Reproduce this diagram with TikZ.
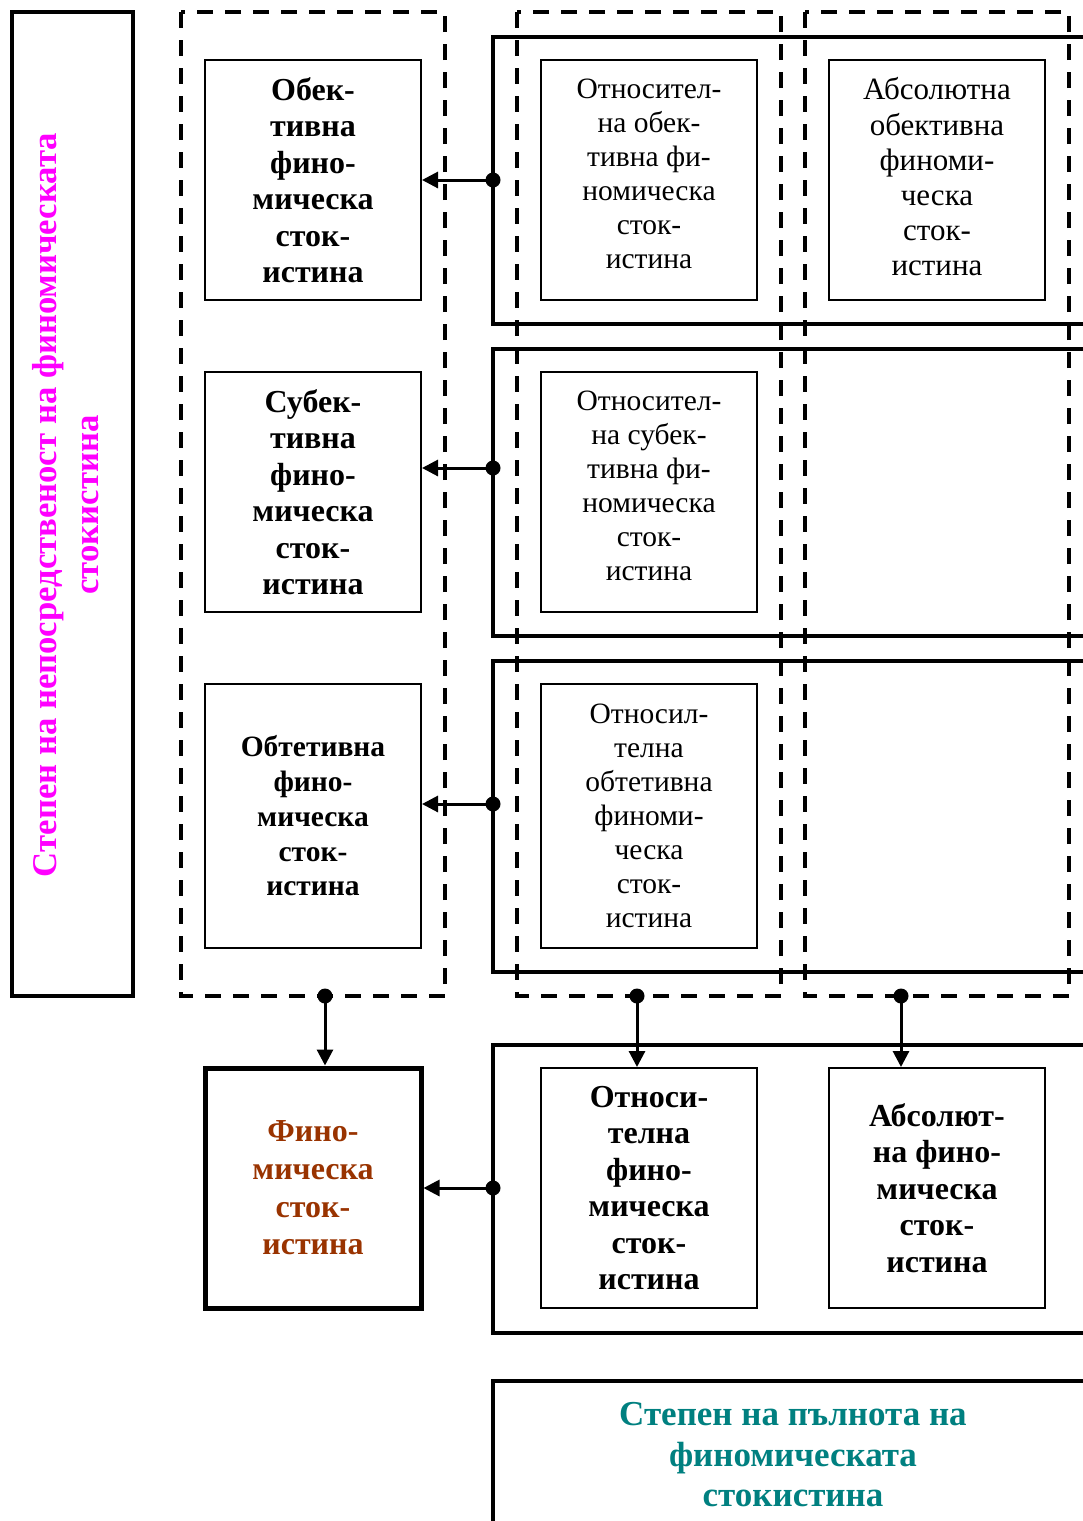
\documentclass[tikz,border=0pt]{standalone}
\usepackage{fontspec}
\setmainfont{Liberation Serif}
\usetikzlibrary{arrows.meta}
\definecolor{mag}{HTML}{FF00FF}
\definecolor{brn}{HTML}{993300}
\definecolor{tl}{HTML}{008080}
\begin{document}
\begin{tikzpicture}[x=1pt,y=-1pt,
 inbox/.style={draw, line width=2pt, minimum width=216pt, minimum height=240pt, inner sep=0pt, align=center},
 plain/.style={inner sep=0pt, align=center},
 bftext/.style={font=\fontsize{32}{36.5}\selectfont\bfseries},
 rmtext/.style={font=\fontsize{29.5}{34}\selectfont},
 dbox/.style={draw, line width=3.5pt, dash pattern=on 16pt off 12pt},
 rowbox/.style={draw, line width=3.5pt},
 conn/.style={line width=3pt, -{Triangle[length=16pt,width=16pt]}},
 dotnode/.style={circle, fill, inner sep=0pt, minimum size=15pt}]
\useasboundingbox (0,0) rectangle (1083,1521);
\clip (0,0) rectangle (1083,1521);
\fill[white] (0,0) rectangle (1083,1521);

% side box with vertical text
\node[draw, line width=4pt, minimum width=121pt, minimum height=984pt, inner sep=0pt] (side) at (72.5,504) {};
\node[rotate=90, text=mag, align=center, font=\fontsize{34.7}{42}\selectfont\bfseries] (vt) at (66,505) {Степен на непосредственост на финомическата\\стокистина};

% row containers
\draw[rowbox] (493,37) rectangle (1110,324);
\draw[rowbox] (493,349) rectangle (1110,636);
\draw[rowbox] (493,661) rectangle (1110,972);
\draw[rowbox] (493,1045) rectangle (1110,1333);
\draw[rowbox] (493,1381) rectangle (1110,1560);

% dashed columns
\draw[dbox] (181,12) rectangle (445,996);
\draw[dbox] (517,12) rectangle (781,996);
\draw[dbox] (805,12) rectangle (1069,996);

% inner boxes
\node[inbox, bftext] (L1) at (313,180) {Обек-\\тивна\\фино-\\мическа\\сток-\\истина};
\node[inbox, bftext] (L2) at (313,492) {Субек-\\тивна\\фино-\\мическа\\сток-\\истина};
\node[inbox, font=\fontsize{29.5}{34.75}\selectfont\bfseries, minimum height=264pt] (L3) at (313,816) {Обтетивна\\фино-\\мическа\\сток-\\истина};
\node[inbox] (M1) at (649,180) {};
\node[plain, rmtext] (M1t) at (649,174) {Относител-\\на обек-\\тивна фи-\\номическа\\сток-\\истина};
\node[inbox] (A1) at (937,180) {};
\node[plain, font=\fontsize{31}{35.2}\selectfont] (A1t) at (937,177) {Абсолютна\\обективна\\финоми-\\ческа\\сток-\\истина};
\node[inbox] (M2) at (649,492) {};
\node[plain, rmtext] (M2t) at (649,486) {Относител-\\на субек-\\тивна фи-\\номическа\\сток-\\истина};
\node[inbox, rmtext, minimum height=264pt] (M3) at (649,816) {Относил-\\телна\\обтетивна\\финоми-\\ческа\\сток-\\истина};
\node[inbox, font=\fontsize{32}{37.6}\selectfont\bfseries, line width=5pt, text=brn] (F) at (313,1188) {Фино-\\мическа\\сток-\\истина};
\node[inbox, bftext] (B1) at (649,1188) {Относи-\\телна\\фино-\\мическа\\сток-\\истина};
\node[inbox, bftext] (B2) at (937,1188) {Абсолют-\\на фино-\\мическа\\сток-\\истина};

% bottom label
\node[text=tl, align=center, font=\fontsize{35}{40.5}\selectfont\bfseries] (lab) at (793,1455) {Степен на пълнота на\\финомическата\\стокистина};

% connectors
\coordinate (d1) at (493,180);
\coordinate (d2) at (493,468);
\coordinate (d3) at (493,804);
\coordinate (d4) at (493,1188);
\coordinate (v1) at (325,996);
\coordinate (v2) at (637,996);
\coordinate (v3) at (901,996);
\draw[conn] (d1) -- (d1 -| L1.east);
\draw[conn] (d2) -- (d2 -| L2.east);
\draw[conn] (d3) -- (d3 -| L3.east);
\draw[conn] (d4) -- (d4 -| F.east);
\draw[conn] (v1) -- (v1 |- F.north);
\draw[conn] (v2) -- (v2 |- B1.north);
\draw[conn] (v3) -- (v3 |- B2.north);
\foreach \p in {d1,d2,d3,d4,v1,v2,v3} \node[dotnode] at (\p) {};
\end{tikzpicture}
\end{document}
